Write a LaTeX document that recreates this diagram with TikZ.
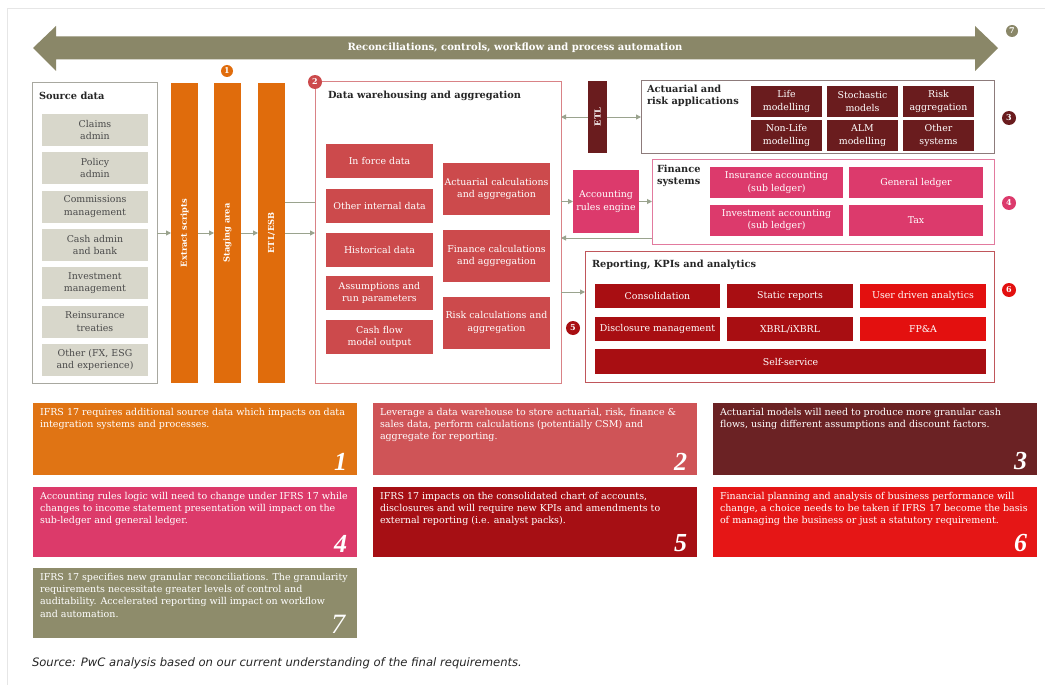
\documentclass[tikz,border=0pt]{standalone}
\usepackage{fontspec}
\setmainfont{DejaVu Serif}
\newfontfamily\numfont{Liberation Serif}
\newfontfamily\sourcefont{DejaVu Sans}
\usetikzlibrary{arrows.meta}

\definecolor{olive}{HTML}{8A8768}
\definecolor{orangebar}{HTML}{E06C0C}
\definecolor{whred}{HTML}{CC4A4C}
\definecolor{maroon}{HTML}{6A1C1E}
\definecolor{pinkc}{HTML}{DC3A6C}
\definecolor{darkred}{HTML}{A80E12}
\definecolor{brightred}{HTML}{E3100F}
\definecolor{srcgray}{HTML}{D8D7CB}
\definecolor{srcborder}{HTML}{A8A8A0}
\definecolor{srctext}{HTML}{4A4A4A}
\definecolor{whborder}{HTML}{D98286}
\definecolor{actborder}{HTML}{8D7B7B}
\definecolor{finborder}{HTML}{E27A9E}
\definecolor{repborder}{HTML}{C0565B}
\definecolor{flowc}{HTML}{9AA38E}
\definecolor{titlec}{HTML}{262626}
\definecolor{framec}{HTML}{E6E6E6}
\definecolor{note1}{HTML}{E07414}
\definecolor{note2}{HTML}{CF5457}
\definecolor{note3}{HTML}{6B2224}
\definecolor{note4}{HTML}{DC3A6A}
\definecolor{note5}{HTML}{A60F14}
\definecolor{note6}{HTML}{E51616}
\definecolor{note7}{HTML}{8E8C6B}

\newcommand\itemfont{\fontsize{9.4}{12.3}\selectfont}
\newcommand\headfont{\bfseries\fontsize{9.8}{12.5}\selectfont}
\newcommand\barfont{\bfseries\fontsize{8.3}{10}\selectfont}
\newcommand\notetextfont{\fontsize{9.5}{12.3}\selectfont}
\newcommand\notenumfont{\numfont\bfseries\itshape\fontsize{26}{26}\selectfont}
\newcommand\badgefont{\bfseries\fontsize{8}{8}\selectfont}

\tikzset{
  every node/.style={inner sep=0pt, outer sep=0pt},
  srcitem/.style={fill=srcgray, minimum width=106pt, minimum height=32pt,
    text width=104pt, align=center, text=srctext, font=\itemfont},
  orangebox/.style={fill=orangebar, minimum width=27pt, minimum height=300pt},
  bartext/.style={rotate=90, text=white, font=\barfont},
  whcell/.style={fill=whred, text=white, minimum width=107pt,
    text width=105pt, align=center, font=\itemfont},
  actcell/.style={fill=maroon, text=white, minimum width=71pt, minimum height=31pt,
    text width=70pt, align=center, font=\itemfont},
  fincell/.style={fill=pinkc, text=white, minimum height=31pt,
    align=center, font=\itemfont},
  repcell/.style={fill=#1, text=white, minimum height=24pt, font=\itemfont},
  groupbox/.style={draw=#1, line width=1pt},
  headtext/.style={text=titlec, font=\headfont, align=left},
  badge/.style={circle, fill=#1, minimum size=14pt, text=white, font=\badgefont},
  flow/.style={draw=flowc, line width=1pt, -{Triangle[length=5pt,width=5pt]}},
  link/.style={draw=flowc, line width=1pt},
  notebox/.style={fill=#1, minimum width=324pt},
  notetext/.style={text=white, font=\notetextfont, align=left, anchor=north west},
  notenum/.style={text=white, font=\notenumfont, anchor=south east},
}

\begin{document}
\begin{tikzpicture}[x=1pt,y=-1pt]
\useasboundingbox (0,0) rectangle (1045,685);
\fill[white] (0,0) rectangle (1045,685);
% page edge
\draw[framec, line width=0.8pt] (7,685) -- (7,8) -- (1045,8);

% process automation band
\fill[olive] (33,48) -- (56,26) -- (56,36.5) -- (975,36.5) -- (975,26) -- (998,48)
  -- (975,71) -- (975,59.5) -- (56,59.5) -- (56,71) -- cycle;
\node[text=white, font=\bfseries\fontsize{10}{12}\selectfont] (band) at (515,48)
  {Reconciliations, controls, workflow and process automation};
\node[badge=olive, minimum size=12pt] (b7) at (1012,31) {7};

% source data
\node[groupbox=srcborder, minimum width=125pt, minimum height=300pt] (src) at (94.5,233) {};
\node[headtext, anchor=west] (srct) at (39,96) {Source data};
\node[srcitem] (s1) at (95,130) {Claims\\admin};
\node[srcitem] (s2) at (95,168) {Policy\\admin};
\node[srcitem] (s3) at (95,206.5) {Commissions\\management};
\node[srcitem] (s4) at (95,245) {Cash admin\\and bank};
\node[srcitem] (s5) at (95,283) {Investment\\management};
\node[srcitem] (s6) at (95,321.5) {Reinsurance\\treaties};
\node[srcitem] (s7) at (95,360) {Other (FX, ESG\\and experience)};

% integration layer
\node[orangebox] (ext) at (184.5,233) {};
\node[bartext] (extt) at (ext.center) {Extract scripts};
\node[orangebox] (stg) at (227.5,233) {};
\node[bartext] (stgt) at (stg.center) {Staging area};
\node[orangebox] (esb) at (271.5,233) {};
\node[bartext] (esbt) at (esb.center) {ETL/ESB};
\node[badge=orangebar, minimum size=12pt] (b1) at (227,71) {1};

% data warehouse
\node[groupbox=whborder, minimum width=246pt, minimum height=301pt] (wh) at (438,232.5) {};
\node[headtext, anchor=west] (wht) at (328,96) {Data warehousing and aggregation};
\node[whcell, minimum height=34pt] (w1) at (379.5,161) {In force data};
\node[whcell, minimum height=34pt] (w2) at (379.5,205.5) {Other internal data};
\node[whcell, minimum height=34pt] (w3) at (379.5,250) {Historical data};
\node[whcell, minimum height=34pt] (w4) at (379.5,293) {Assumptions and\\run parameters};
\node[whcell, minimum height=34pt] (w5) at (379.5,337) {Cash flow\\model output};
\node[whcell, minimum height=52pt] (w6) at (496.5,189) {Actuarial calculations\\and aggregation};
\node[whcell, minimum height=52pt] (w7) at (496.5,256) {Finance calculations\\and aggregation};
\node[whcell, minimum height=52pt] (w8) at (496.5,322.5) {Risk calculations and\\aggregation};
\node[badge=whred] (b2) at (wh.north west) {2};

% actuarial applications
\node[fill=maroon, minimum width=19pt, minimum height=72pt] (etl) at (597.5,117) {};
\node[bartext] (etlt) at (etl.center) {ETL};
\node[groupbox=actborder, minimum width=353pt, minimum height=72pt] (act) at (817.5,117) {};
\node[headtext, anchor=north west] (actt) at (647,85) {Actuarial and\\risk applications};
\node[actcell] (a1) at (786.5,101.5) {Life\\modelling};
\node[actcell] (a2) at (862.5,101.5) {Stochastic\\models};
\node[actcell] (a3) at (938.5,101.5) {Risk\\aggregation};
\node[actcell] (a4) at (786.5,135.5) {Non-Life\\modelling};
\node[actcell] (a5) at (862.5,135.5) {ALM\\modelling};
\node[actcell] (a6) at (938.5,135.5) {Other\\systems};
\node[badge=maroon] (b3) at (1009,118) {3};

% accounting rules and finance systems
\node[fill=pinkc, text=white, minimum width=66pt, minimum height=63pt,
  align=center, font=\itemfont] (are) at (606,201.5) {Accounting\\rules engine};
\node[groupbox=finborder, minimum width=342pt, minimum height=85pt] (fin) at (823,201.5) {};
\node[headtext, anchor=north west] (fint) at (657,165) {Finance\\systems};
\node[fincell, minimum width=133pt] (f1) at (776.5,182.5) {Insurance accounting\\(sub ledger)};
\node[fincell, minimum width=134pt] (f2) at (916,182.5) {General ledger};
\node[fincell, minimum width=133pt] (f3) at (776.5,220) {Investment accounting\\(sub ledger)};
\node[fincell, minimum width=134pt] (f4) at (916,220) {Tax};
\node[badge=pinkc] (b4) at (1009,203) {4};

% reporting
\node[groupbox=repborder, minimum width=409pt, minimum height=131pt] (rep) at (789.5,316.5) {};
\node[headtext, anchor=west] (rept) at (592,265) {Reporting, KPIs and analytics};
\node[repcell=darkred, minimum width=125pt] (r1) at (657.5,296) {Consolidation};
\node[repcell=darkred, minimum width=126pt] (r2) at (790,296) {Static reports};
\node[repcell=brightred, minimum width=126pt] (r3) at (923,296) {User driven analytics};
\node[repcell=darkred, minimum width=125pt] (r4) at (657.5,329) {Disclosure management};
\node[repcell=darkred, minimum width=126pt] (r5) at (790,329) {XBRL/iXBRL};
\node[repcell=brightred, minimum width=126pt] (r6) at (923,329) {FP\&A};
\node[repcell=darkred, minimum width=391pt, minimum height=25pt] (r7) at (790.5,361.5) {Self-service};
\node[badge=brightred] (b6) at (1009,290) {6};
\node[badge=darkred] (b5) at (573,328) {5};

% data flows
\draw[flow] (src.east) -- (ext.west);
\draw[flow] (ext.east) -- (stg.west);
\draw[flow] (stg.east) -- (esb.west);
\draw[flow] (esb.east) -- (esb.east -| wh.west);
\draw[link] ([yshift=31pt]esb.east) -- ([yshift=31pt]esb.east -| wh.west);
\draw[flow] (etl.west) -- (etl.west -| wh.east);
\draw[flow] (etl.east) -- (etl.east -| act.west);
\draw[flow] (are.west -| wh.east) -- (are.west);
\draw[flow] (are.east) -- (are.east -| fin.west);
\draw[flow] ([yshift=-36.5pt]fin.west) -- ([yshift=-36.5pt]fin.west -| wh.east);
\draw[flow] ([yshift=24.5pt]rep.west -| wh.east) -- ([yshift=24.5pt]rep.west);

% notes
\node[notebox=note1, minimum height=72pt] (n1) at (195,439) {};
\node[notetext] (n1t) at ([xshift=7pt,yshift=-5pt]n1.north west)
  {IFRS 17 requires additional source data which impacts on data\\integration systems and processes.};
\node[notenum] (n1n) at ([xshift=-10pt,yshift=5pt]n1.south east) {1};

\node[notebox=note2, minimum height=72pt] (n2) at (535,439) {};
\node[notetext] (n2t) at ([xshift=7pt,yshift=-5pt]n2.north west)
  {Leverage a data warehouse to store actuarial, risk, finance \&\\sales data, perform calculations (potentially CSM) and\\aggregate for reporting.};
\node[notenum] (n2n) at ([xshift=-10pt,yshift=5pt]n2.south east) {2};

\node[notebox=note3, minimum height=72pt] (n3) at (875,439) {};
\node[notetext] (n3t) at ([xshift=7pt,yshift=-5pt]n3.north west)
  {Actuarial models will need to produce more granular cash\\flows, using different assumptions and discount factors.};
\node[notenum] (n3n) at ([xshift=-10pt,yshift=5pt]n3.south east) {3};

\node[notebox=note4, minimum height=70pt] (n4) at (195,522) {};
\node[notetext] (n4t) at ([xshift=7pt,yshift=-5pt]n4.north west)
  {Accounting rules logic will need to change under IFRS 17 while\\changes to income statement presentation will impact on the\\sub-ledger and general ledger.};
\node[notenum] (n4n) at ([xshift=-10pt,yshift=5pt]n4.south east) {4};

\node[notebox=note5, minimum height=70pt] (n5) at (535,522) {};
\node[notetext] (n5t) at ([xshift=7pt,yshift=-5pt]n5.north west)
  {IFRS 17 impacts on the consolidated chart of accounts,\\disclosures and will require new KPIs and amendments to\\external reporting (i.e. analyst packs).};
\node[notenum] (n5n) at ([xshift=-10pt,yshift=5pt]n5.south east) {5};

\node[notebox=note6, minimum height=70pt] (n6) at (875,522) {};
\node[notetext] (n6t) at ([xshift=7pt,yshift=-5pt]n6.north west)
  {Financial planning and analysis of business performance will\\change, a choice needs to be taken if IFRS 17 become the basis\\of managing the business or just a statutory requirement.};
\node[notenum] (n6n) at ([xshift=-10pt,yshift=5pt]n6.south east) {6};

\node[notebox=note7, minimum height=70pt] (n7) at (195,603) {};
\node[notetext] (n7t) at ([xshift=7pt,yshift=-5pt]n7.north west)
  {IFRS 17 specifies new granular reconciliations. The granularity\\requirements necessitate greater levels of control and\\auditability. Accelerated reporting will impact on workflow\\and automation.};
\node[notenum, font=\numfont\itshape\fontsize{28}{28}\selectfont] (n7n) at ([xshift=-12pt,yshift=5pt]n7.south east) {7};

\node[anchor=west, text=titlec, font=\sourcefont\itshape\fontsize{11.6}{14}\selectfont] (srcnote) at (32,663)
  {Source: PwC analysis based on our current understanding of the final requirements.};
\end{tikzpicture}
\end{document}
